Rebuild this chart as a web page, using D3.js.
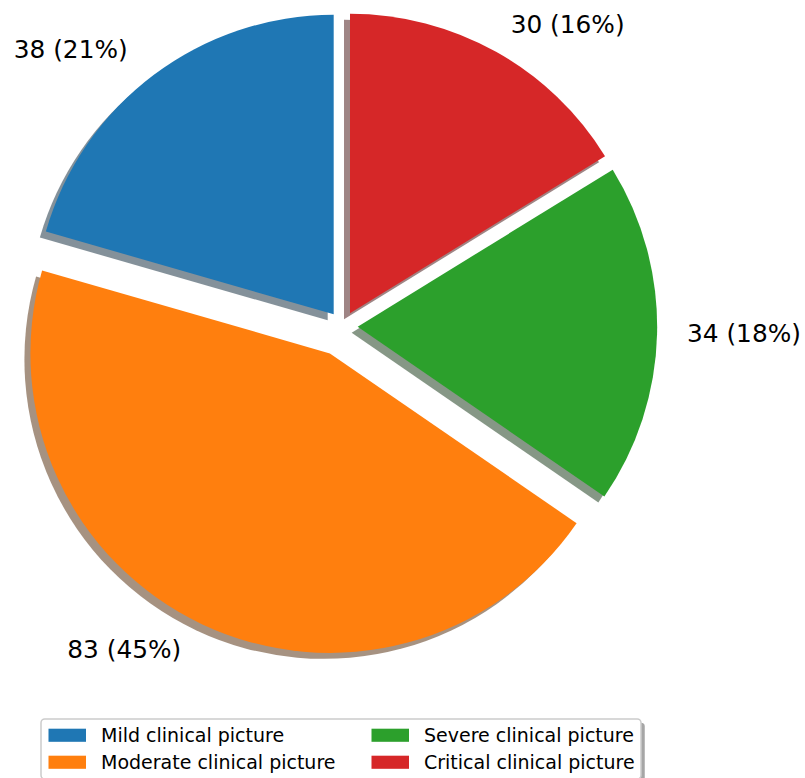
<!DOCTYPE html>
<html><head><meta charset="utf-8">
<script src="https://cdn.jsdelivr.net/npm/d3@7"></script>
<style>body{margin:0;background:#fff} svg{display:block} text{font-family:"DejaVu Sans",sans-serif;fill:#000}</style>
</head><body><svg id="chart" width="805" height="778"></svg>
<script>
const categories = ["Mild clinical picture","Moderate clinical picture","Severe clinical picture","Critical clinical picture"];
const values = [38, 83, 34, 30];
const explode = [0.05, 0.1, 0.05, 0.05];
const sliceLabels = ["38 (21%)", "83 (45%)", "34 (18%)", "30 (16%)"];
const colors = ["#1f77b4", "#ff7f0e", "#2ca02c", "#d62728"];

const cx = 342.7, cy = 326.3, R = 299.5;
const labelFs = 24.8, legFs = 19;
const svg = d3.select("#chart");

// matplotlib: start at 12 o'clock, counter-clockwise
const pie = d3.pie().sort(null).startAngle(0).endAngle(-2 * Math.PI);
const arcs = pie(values);
const arc = d3.arc().innerRadius(0).outerRadius(R);
const mid = d => (d.startAngle + d.endAngle) / 2;
const dir = (d, dist) => [Math.sin(mid(d)) * dist, -Math.cos(mid(d)) * dist];

const g = svg.append("g").attr("transform", `translate(${cx},${cy})`);
const shOff = 0.02 * R;

// shadows
g.selectAll("path.shadow").data(arcs).join("path")
  .attr("class", "shadow")
  .attr("d", arc)
  .attr("transform", (d, i) => { const [x, y] = dir(d, explode[i] * R); return `translate(${x - shOff},${y + shOff})`; })
  .attr("fill", (d, i) => { const c = d3.rgb(colors[i]); return d3.rgb(c.r * 0.3, c.g * 0.3, c.b * 0.3).toString(); })
  .attr("fill-opacity", 0.5);

// wedges
g.selectAll("path.wedge").data(arcs).join("path")
  .attr("class", "wedge")
  .attr("d", arc)
  .attr("transform", (d, i) => { const [x, y] = dir(d, explode[i] * R); return `translate(${x},${y})`; })
  .attr("fill", (d, i) => colors[i]);

// labels
g.selectAll("text.lbl").data(arcs).join("text")
  .attr("class", "lbl")
  .each(function (d, i) {
    const [ex, ey] = dir(d, explode[i] * R);
    const [lx, ly] = dir(d, 1.1 * R);
    const x = ex + lx, y = ey + ly;
    const right = x > 0;
    d3.select(this)
      .attr("x", x).attr("y", y)
      .attr("dy", "0.28em")
      .attr("dx", right ? 0 : -0.318 * labelFs)
      .attr("text-anchor", right ? "start" : "end")
      .attr("font-size", labelFs)
      .text(sliceLabels[i]);
  });

// legend
const lx0 = 41, ly0 = 719, lw = 600, lh = 60;
const leg = svg.append("g");
leg.append("rect").attr("x", lx0 + 3.75).attr("y", ly0 + 3.75).attr("width", lw).attr("height", lh)
  .attr("rx", 3.75).attr("fill", "rgb(77,77,77)").attr("fill-opacity", 0.5);
leg.append("rect").attr("x", lx0).attr("y", ly0).attr("width", lw).attr("height", lh)
  .attr("rx", 3.75).attr("fill", "#fff").attr("stroke", "#cccccc").attr("stroke-width", 1.5);

const colX = [48.5, 371.5];
const rowY = [735.3, 762.3];
categories.forEach((c, i) => {
  const col = Math.floor(i / 2), row = i % 2;
  const x = colX[col], y = rowY[row];
  leg.append("rect").attr("x", x).attr("y", y - 6.6).attr("width", 37.5).attr("height", 13.1).attr("fill", colors[i]);
  leg.append("text").attr("x", x + 37.5 + 15).attr("y", y).attr("dy", "0.33em")
    .attr("font-size", legFs).text(c);
});
</script></body></html>
